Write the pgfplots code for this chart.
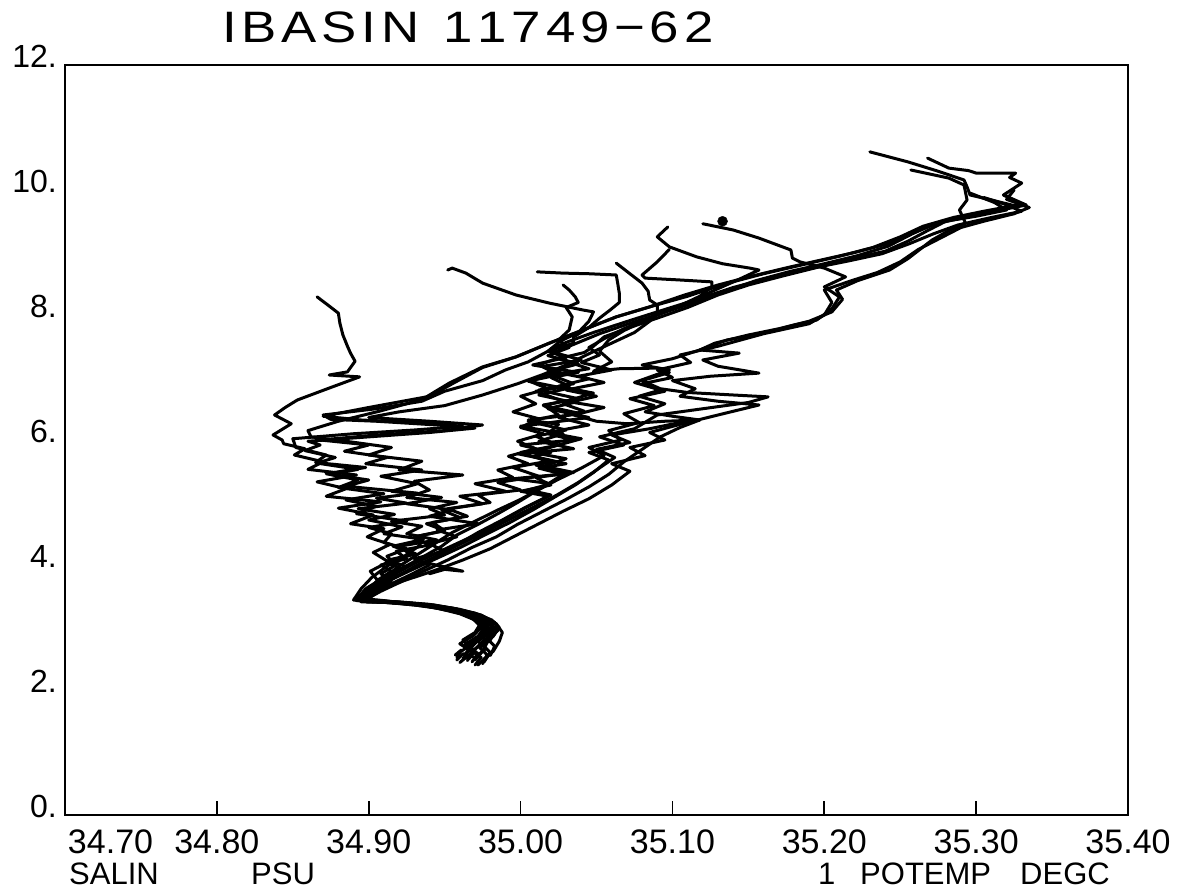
\documentclass[border=0pt]{standalone}
\usepackage{fontspec}
\setmainfont{Liberation Sans}
\usepackage{pgfplots}
\pgfplotsset{compat=1.18}
\pgfplotsset{prof/.style={black,line width=3pt,line join=round,line cap=round,mark=none}}
\newcommand\kk{\kern 4pt}
\begin{document}
\begin{tikzpicture}[x=1pt,y=1pt]
\path[use as bounding box] (0,0) rectangle (1189,891);
\begin{axis}[
  at={(65pt,76pt)}, anchor=south west,
  scale only axis, width=1063pt, height=750pt,
  xmin=34.70, xmax=35.40, ymin=0, ymax=12,
  axis line style={line width=1.8pt},
  xtick={34.7,34.8,34.9,35.0,35.1,35.2,35.3,35.4},
  xticklabels={\makebox[0pt][l]{\hspace{3pt}34.70},34.80,34.90,35.00,35.10,35.20,35.30,35.40},
  ytick={0,2,4,6,8,10,12},
  yticklabels={0.,2.,4.,6.,8.,10.,12.},
  xtick pos=left, ytick pos=left,
  tick align=inside, major tick length=14pt,
  xtick style={line width=1.8pt,black},
  ytick style={draw=none},
  xticklabel style={font=\fontsize{34}{34}\selectfont, anchor=north, inner sep=0pt, yshift=-15pt},
  yticklabel style={font=\fontsize{32}{32}\selectfont, anchor=base east, inner sep=0pt, xshift=-8pt, yshift=-3pt},
]
% P1 far-left
\addplot[prof] coordinates {(34.968,2.45) (34.972,2.58) (34.966,2.70) (34.974,2.82) (34.979,2.95) (34.976,3.08) (34.967,3.19) (34.953,3.29) (34.936,3.36) (34.916,3.40) (34.896,3.43) (34.900,3.58) (34.906,3.75) (34.901,3.90) (34.913,4.05) (34.903,4.20) (34.914,4.33) (34.899,4.45) (34.910,4.58) (34.888,4.66) (34.903,4.80) (34.880,4.91) (34.908,5.01) (34.872,5.10) (34.885,5.22) (34.866,5.33) (34.892,5.44) (34.860,5.53) (34.870,5.65) (34.851,5.76) (34.858,5.86) (34.844,5.94) (34.843,6.00) (34.837,6.08) (34.839,6.11) (34.849,6.26) (34.838,6.40) (34.845,6.52) (34.853,6.64) (34.875,6.84) (34.894,7.01) (34.874,7.04) (34.886,7.09) (34.891,7.26) (34.888,7.39) (34.886,7.50) (34.883,7.68) (34.881,7.87) (34.880,8.03) (34.872,8.18) (34.866,8.29)};
% P2
\addplot[prof] coordinates {(34.962,2.50) (34.966,2.64) (34.960,2.74) (34.969,2.87) (34.974,3.00) (34.970,3.12) (34.960,3.22) (34.945,3.31) (34.928,3.38) (34.910,3.43) (34.893,3.47) (34.903,3.64) (34.914,3.82) (34.925,3.97) (34.913,4.08) (34.931,4.18) (34.916,4.30) (34.936,4.41) (34.910,4.50) (34.922,4.61) (34.900,4.72) (34.917,4.81) (34.893,4.90) (34.925,4.99) (34.905,5.07) (34.932,5.15) (34.885,5.26) (34.900,5.36) (34.875,5.45) (34.893,5.53) (34.866,5.63) (34.878,5.72) (34.858,5.83) (34.868,5.92) (34.860,5.98) (34.900,6.05) (34.940,6.12) (34.970,6.19) (34.945,6.24) (34.905,6.30) (34.875,6.33) (34.870,6.40) (34.905,6.50) (34.935,6.62) (34.950,6.78) (34.975,6.95) (34.990,7.12) (35.005,7.25) (35.018,7.42) (35.026,7.58) (35.038,7.72) (35.045,7.90) (35.048,8.05) (35.041,8.08) (35.019,8.19) (34.997,8.32) (34.975,8.51) (34.964,8.67) (34.955,8.75) (34.952,8.72)};
% P3
\addplot[prof] coordinates {(34.975,2.42) (34.978,2.56) (34.973,2.68) (34.980,2.80) (34.984,2.95) (34.980,3.08) (34.971,3.20) (34.957,3.30) (34.940,3.37) (34.920,3.41) (34.900,3.42) (34.891,3.45) (34.900,3.62) (34.910,3.80) (34.920,3.98) (34.931,4.15) (34.944,4.35) (34.955,4.52) (34.970,4.70) (34.985,4.88) (35.000,5.05) (35.015,5.25) (35.028,5.45) (35.012,5.55) (35.030,5.62) (35.008,5.74) (35.020,5.80) (35.000,5.92) (35.035,6.00) (35.018,6.10) (35.025,6.25) (35.005,6.32) (35.040,6.42) (35.015,6.55) (35.028,6.62) (35.010,6.78) (35.032,6.86) (35.020,7.00) (35.038,7.08) (35.008,7.20) (35.030,7.32) (35.018,7.42) (35.035,7.55) (35.035,7.65) (35.045,7.80) (35.052,7.95) (35.059,8.08) (35.065,8.20) (35.065,8.35) (35.064,8.50) (35.063,8.64) (35.045,8.66) (35.028,8.67) (35.011,8.69)};
% P4
\addplot[prof] coordinates {(34.958,2.48) (34.962,2.58) (34.970,2.52) (34.977,2.66) (34.972,2.78) (34.980,2.92) (34.982,3.05) (34.975,3.16) (34.962,3.26) (34.948,3.33) (34.930,3.38) (34.912,3.40) (34.895,3.41) (34.908,3.58) (34.922,3.74) (34.936,3.90) (34.952,4.08) (34.968,4.28) (34.984,4.45) (34.998,4.65) (35.014,4.85) (35.030,5.05) (35.045,5.25) (35.058,5.45) (35.068,5.65) (35.080,5.85) (35.092,6.05) (35.105,6.20) (35.118,6.32) (35.095,6.30) (35.070,6.26) (35.050,6.30) (35.035,6.40) (35.055,6.52) (35.030,6.62) (35.048,6.75) (35.025,6.86) (35.045,6.98) (35.020,7.10) (35.038,7.22) (35.018,7.35) (35.032,7.48) (35.025,7.60) (35.032,7.76) (35.034,7.97) (35.030,8.12) (35.038,8.20) (35.036,8.29) (35.032,8.40) (35.028,8.48)};
% P5
\addplot[prof] coordinates {(34.970,2.40) (34.974,2.52) (34.968,2.62) (34.976,2.76) (34.981,2.90) (34.978,3.04) (34.969,3.16) (34.955,3.26) (34.938,3.34) (34.918,3.39) (34.898,3.43) (34.905,3.55) (34.915,3.70) (34.928,3.85) (34.940,4.00) (34.930,4.10) (34.950,4.22) (34.940,4.34) (34.958,4.45) (34.945,4.56) (34.972,4.66) (34.940,4.78) (34.955,4.88) (34.925,4.98) (34.948,5.08) (34.915,5.18) (34.932,5.30) (34.908,5.42) (34.935,5.52) (34.898,5.62) (34.912,5.72) (34.884,5.82) (34.900,5.92) (34.868,6.00) (34.905,6.08) (34.950,6.15) (34.975,6.24) (34.940,6.30) (34.900,6.36) (34.920,6.45) (34.950,6.55) (34.975,6.72) (34.998,6.90) (35.015,7.05) (35.030,7.20) (35.045,7.38) (35.060,7.55) (35.075,7.72) (35.085,7.90) (35.090,8.05) (35.090,8.16) (35.085,8.24) (35.084,8.38) (35.080,8.51) (35.072,8.66) (35.063,8.83)};
% P6
\addplot[prof] coordinates {(34.965,2.47) (34.968,2.60) (34.963,2.72) (34.972,2.84) (34.977,2.97) (34.974,3.10) (34.965,3.21) (34.950,3.30) (34.933,3.37) (34.913,3.41) (34.894,3.43) (34.902,3.60) (34.912,3.78) (34.925,3.96) (34.940,4.14) (34.956,4.32) (34.972,4.50) (34.987,4.70) (35.002,4.90) (35.018,5.10) (35.000,5.18) (35.020,5.28) (35.010,5.40) (35.035,5.48) (35.015,5.58) (35.030,5.70) (35.008,5.80) (35.025,5.92) (35.040,6.02) (35.018,6.12) (35.045,6.24) (35.025,6.36) (35.042,6.46) (35.028,6.58) (35.050,6.70) (35.030,6.80) (35.055,6.92) (35.038,7.02) (35.060,7.12) (35.040,7.24) (35.052,7.36) (35.045,7.48) (35.055,7.62) (35.068,7.78) (35.085,7.95) (35.100,8.10) (35.115,8.25) (35.128,8.40) (35.142,8.55) (35.157,8.72) (35.151,8.75) (35.133,8.82) (35.116,8.93) (35.098,9.09) (35.090,9.25) (35.097,9.41)};
% P7
\addplot[prof] coordinates {(34.980,2.55) (34.983,2.70) (34.978,2.82) (34.985,2.95) (34.983,3.08) (34.974,3.20) (34.960,3.29) (34.943,3.36) (34.923,3.40) (34.903,3.42) (34.892,3.43) (34.900,3.58) (34.914,3.76) (34.930,3.94) (34.946,4.12) (34.962,4.30) (34.978,4.50) (34.993,4.68) (35.008,4.88) (35.022,5.08) (35.036,5.28) (35.048,5.48) (35.058,5.68) (35.045,5.80) (35.068,5.92) (35.052,6.05) (35.075,6.18) (35.090,6.40) (35.120,6.50) (35.150,6.60) (35.163,6.69) (35.140,6.72) (35.110,6.76) (35.092,6.82) (35.080,6.95) (35.098,7.08) (35.090,7.15) (35.065,7.14) (35.048,7.10) (35.060,7.25) (35.052,7.42) (35.058,7.60) (35.068,7.75) (35.085,7.95) (35.105,8.15) (35.118,8.30) (35.126,8.45) (35.126,8.53) (35.105,8.56) (35.082,8.59) (35.080,8.64) (35.090,8.85) (35.098,9.05)};
% P8
\addplot[prof] coordinates {(34.972,2.40) (34.976,2.50) (34.982,2.62) (34.986,2.78) (34.988,2.92) (34.984,3.06) (34.975,3.18) (34.962,3.27) (34.945,3.34) (34.926,3.39) (34.906,3.42) (34.894,3.44) (34.905,3.58) (34.922,3.74) (34.942,3.90) (34.962,4.08) (34.980,4.26) (34.996,4.46) (35.012,4.66) (35.028,4.86) (35.045,5.06) (35.060,5.28) (35.072,5.50) (35.060,5.62) (35.082,5.75) (35.072,5.88) (35.095,6.00) (35.085,6.12) (35.105,6.25) (35.130,6.40) (35.157,6.56) (35.130,6.62) (35.105,6.70) (35.115,6.82) (35.100,6.95) (35.125,7.02) (35.157,7.07) (35.130,7.18) (35.120,7.28) (35.144,7.39) (35.118,7.44) (35.136,7.60) (35.150,7.66) (35.168,7.76) (35.182,7.85) (35.195,7.92) (35.205,8.10) (35.210,8.29) (35.200,8.45) (35.214,8.61) (35.200,8.75) (35.184,8.85) (35.179,8.91) (35.178,9.04) (35.157,9.23) (35.140,9.36) (35.120,9.46)};
\addplot[only marks, mark=*, mark size=5pt, black] coordinates {(35.133,9.50)};
% P9
\addplot[prof] coordinates {(34.966,2.50) (34.970,2.62) (34.964,2.74) (34.972,2.86) (34.976,3.00) (34.972,3.13) (34.962,3.23) (34.948,3.31) (34.930,3.37) (34.910,3.41) (34.892,3.45) (34.898,3.62) (34.910,3.80) (34.922,3.94) (34.912,4.04) (34.928,4.16) (34.920,4.30) (34.945,4.40) (34.925,4.50) (34.935,4.62) (34.915,4.70) (34.950,4.80) (34.940,4.90) (34.958,5.00) (34.925,5.08) (34.940,5.20) (34.930,5.34) (34.962,5.44) (34.920,5.52) (34.935,5.66) (34.900,5.76) (34.915,5.88) (34.885,5.98) (34.862,6.05) (34.860,6.15) (34.880,6.30) (34.907,6.46) (34.925,6.58) (34.942,6.72) (34.955,6.90) (34.975,7.16) (34.997,7.33) (35.019,7.55) (35.041,7.76) (35.063,7.97) (35.085,8.13) (35.110,8.30) (35.135,8.50) (35.160,8.66) (35.185,8.80) (35.210,8.94) (35.232,9.08) (35.250,9.25) (35.265,9.42) (35.285,9.56) (35.305,9.66) (35.325,9.75) (35.310,9.84) (35.296,9.92) (35.294,10.05) (35.292,10.16) (35.275,10.30) (35.255,10.45) (35.230,10.61)};
% P10
\addplot[prof] coordinates {(34.976,2.45) (34.980,2.60) (34.975,2.72) (34.982,2.86) (34.986,3.00) (34.981,3.12) (34.970,3.23) (34.955,3.31) (34.936,3.37) (34.916,3.41) (34.897,3.43) (34.904,3.60) (34.916,3.78) (34.930,3.96) (34.945,4.14) (34.958,4.32) (34.972,4.52) (34.988,4.72) (35.003,4.92) (35.020,5.12) (35.005,5.20) (35.020,5.30) (34.995,5.38) (35.030,5.46) (35.010,5.60) (35.022,5.66) (34.998,5.78) (35.035,5.86) (35.012,5.98) (35.028,6.10) (35.000,6.22) (35.020,6.28) (35.045,6.36) (35.018,6.50) (35.035,6.60) (35.012,6.72) (35.030,6.82) (35.005,6.94) (35.028,7.06) (35.015,7.18) (35.040,7.28) (35.022,7.40) (35.040,7.58) (35.052,7.70) (35.070,7.85) (35.092,8.02) (35.112,8.18) (35.135,8.38) (35.155,8.55) (35.178,8.70) (35.200,8.82) (35.222,8.95) (35.242,9.10) (35.258,9.30) (35.272,9.45) (35.290,9.55) (35.310,9.65) (35.333,9.76) (35.318,9.92) (35.330,10.11) (35.322,10.20) (35.326,10.27) (35.300,10.27) (35.295,10.31) (35.282,10.35) (35.268,10.51)};
% P11
\addplot[prof] coordinates {(34.963,2.56) (34.967,2.68) (34.962,2.80) (34.970,2.92) (34.973,3.04) (34.968,3.15) (34.958,3.25) (34.943,3.33) (34.925,3.39) (34.907,3.43) (34.893,3.46) (34.902,3.62) (34.916,3.79) (34.930,3.97) (34.945,4.15) (34.960,4.33) (34.976,4.52) (34.992,4.72) (35.008,4.92) (35.024,5.12) (35.038,5.32) (35.050,5.52) (35.062,5.72) (35.050,5.85) (35.072,5.96) (35.060,6.08) (35.085,6.18) (35.105,6.28) (35.118,6.32) (35.100,6.38) (35.082,6.45) (35.095,6.58) (35.078,6.70) (35.092,6.80) (35.075,6.92) (35.090,7.05) (35.098,7.12) (35.080,7.20) (35.100,7.30) (35.118,7.44) (35.128,7.55) (35.150,7.68) (35.170,7.78) (35.190,7.90) (35.205,8.05) (35.212,8.25) (35.208,8.40) (35.222,8.55) (35.243,8.72) (35.255,8.90) (35.271,9.20) (35.282,9.35) (35.293,9.47) (35.289,9.68) (35.294,9.84) (35.292,10.08) (35.282,10.19) (35.257,10.32)};
% P12
\addplot[prof] coordinates {(34.958,2.52) (34.961,2.64) (34.957,2.56) (34.966,2.70) (34.972,2.84) (34.977,2.98) (34.974,3.10) (34.964,3.21) (34.948,3.30) (34.930,3.36) (34.912,3.40) (34.895,3.42) (34.903,3.58) (34.915,3.72) (34.908,3.86) (34.918,4.00) (34.912,4.14) (34.925,4.26) (34.910,4.36) (34.915,4.50) (34.900,4.60) (34.925,4.70) (34.892,4.82) (34.905,4.94) (34.885,5.04) (34.910,5.14) (34.880,5.24) (34.893,5.36) (34.872,5.46) (34.898,5.56) (34.865,5.64) (34.872,5.76) (34.852,5.88) (34.850,6.02) (34.890,6.10) (34.930,6.16) (34.962,6.22) (34.930,6.28) (34.895,6.32) (34.870,6.38) (34.900,6.52) (34.938,6.69) (34.953,6.91) (34.975,7.17) (34.997,7.33) (35.019,7.55) (35.041,7.76) (35.063,7.97) (35.085,8.13) (35.108,8.32) (35.130,8.48) (35.152,8.62) (35.176,8.76) (35.198,8.88) (35.220,9.00) (35.245,9.16) (35.262,9.35) (35.278,9.50) (35.298,9.60) (35.318,9.70) (35.330,9.78) (35.318,9.92)};
% P13
\addplot[prof] coordinates {(34.970,2.48) (34.975,2.62) (34.978,2.76) (34.983,2.90) (34.980,3.04) (34.973,3.16) (34.960,3.26) (34.942,3.34) (34.922,3.39) (34.900,3.41) (34.890,3.44) (34.895,3.62) (34.902,3.80) (34.912,3.98) (34.924,4.15) (34.934,4.32) (34.930,4.45) (34.950,4.55) (34.942,4.68) (34.965,4.78) (34.952,4.90) (34.980,5.00) (34.972,5.12) (35.000,5.20) (34.985,5.32) (35.012,5.42) (34.995,5.56) (35.018,5.66) (35.000,5.80) (35.025,5.92) (35.010,6.06) (35.030,6.16) (35.005,6.30) (35.025,6.40) (35.015,6.56) (35.038,6.66) (35.012,6.80) (35.035,6.90) (35.020,7.04) (35.045,7.14) (35.025,7.30) (35.042,7.40) (35.048,7.50) (35.055,7.65) (35.072,7.80) (35.090,7.95) (35.110,8.12) (35.130,8.32) (35.150,8.48) (35.172,8.62) (35.195,8.76) (35.218,8.90) (35.240,9.02) (35.255,9.18) (35.268,9.35) (35.280,9.50) (35.300,9.58) (35.320,9.68) (35.312,9.80) (35.296,9.95)};
% P14
\addplot[prof] coordinates {(34.960,2.44) (34.966,2.56) (34.972,2.70) (34.978,2.84) (34.982,2.98) (34.978,3.12) (34.968,3.22) (34.952,3.31) (34.932,3.38) (34.912,3.42) (34.893,3.44) (34.900,3.60) (34.910,3.78) (34.922,3.95) (34.935,4.12) (34.948,4.30) (34.958,4.48) (34.972,4.65) (34.985,4.82) (34.998,5.00) (35.010,5.18) (35.024,5.36) (35.040,5.55) (35.055,5.75) (35.045,5.88) (35.066,6.00) (35.058,6.15) (35.078,6.28) (35.068,6.42) (35.088,6.55) (35.072,6.66) (35.095,6.78) (35.080,6.90) (35.100,7.00) (35.090,7.12) (35.112,7.24) (35.105,7.36) (35.130,7.50) (35.160,7.70) (35.190,7.86) (35.200,8.00) (35.205,8.20) (35.200,8.40) (35.218,8.55) (35.235,8.68) (35.250,8.85) (35.262,9.05) (35.278,9.25) (35.290,9.40) (35.305,9.50) (35.325,9.62) (35.335,9.72) (35.320,9.85) (35.325,10.00)};
% P15
\addplot[prof] coordinates {(34.965,2.60) (34.969,2.72) (34.975,2.86) (34.978,3.00) (34.973,3.12) (34.963,3.22) (34.948,3.31) (34.930,3.37) (34.911,3.41) (34.895,3.44) (34.900,3.60) (34.906,3.76) (34.915,3.90) (34.908,4.00) (34.925,4.10) (34.918,4.22) (34.940,4.32) (34.930,4.45) (34.950,4.55) (34.938,4.66) (34.960,4.76) (34.948,4.88) (34.975,4.98) (34.960,5.10) (34.990,5.18) (34.970,5.30) (34.995,5.40) (34.985,5.52) (35.005,5.62) (34.992,5.74) (35.010,5.86) (34.998,5.98) (35.015,6.10) (35.000,6.20) (35.012,6.34) (34.995,6.45) (35.010,6.58) (35.000,6.70) (35.018,6.82) (35.005,6.95) (35.022,7.08) (35.012,7.20) (35.028,7.34) (35.020,7.46) (35.032,7.58) (35.048,7.72) (35.068,7.88) (35.090,8.05) (35.115,8.24) (35.140,8.44) (35.165,8.60) (35.190,8.74) (35.215,8.86) (35.238,8.98) (35.256,9.14) (35.272,9.30) (35.288,9.44) (35.310,9.56) (35.330,9.66) (35.318,9.78) (35.305,9.88)};
% short spur
\addplot[prof] coordinates {(34.935,4.05) (34.948,3.98) (34.962,3.90) (34.950,3.93) (34.940,3.86)};
\end{axis}
\node[anchor=base west, inner sep=0pt] at (222,848) {\scalebox{1.2}[1]{\fontsize{44}{44}\selectfont I\kk B\kk A\kk S\kk I\kk N\kk\ \kk 1\kk 1\kk 7\kk 4\kk 9\kk −\kk 6\kk 2}};
\begin{scope}[every node/.style={anchor=base west, inner sep=0pt, font=\fontsize{31}{31}\selectfont}]
\node at (69,6) {SALIN};
\node at (251,6) {PSU};
\node at (818,6) {1};
\node at (860,6) {POTEMP};
\node at (1020,6) {DEGC};
\end{scope}
\end{tikzpicture}
\end{document}
